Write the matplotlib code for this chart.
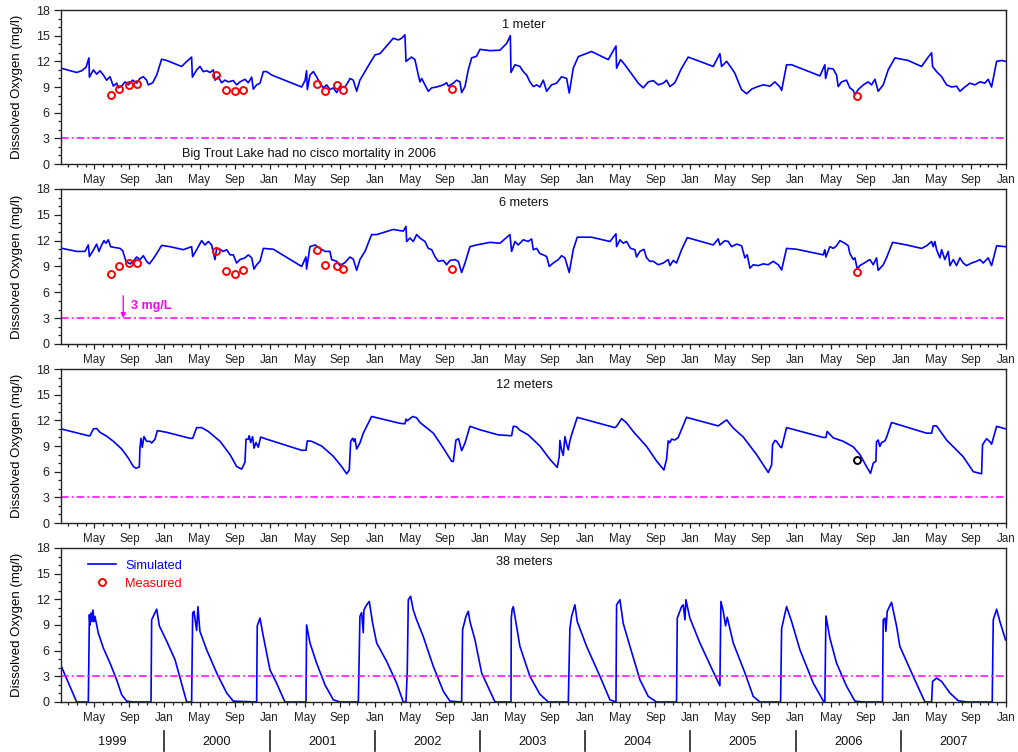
# -*- coding: utf-8 -*-
"""Oxígeno disuelto simulado vs. medido en Big Trout Lake (1999-2007),
cuatro profundidades apiladas con el umbral de 3 mg/L."""
import matplotlib
matplotlib.use("Agg")
import matplotlib.pyplot as plt
from matplotlib.lines import Line2D

plt.rcParams.update({"font.family": ["Liberation Sans", "DejaVu Sans"],
                     "font.size": 9.2, "text.color": "#111111",
                     "axes.edgecolor": "#222222", "axes.linewidth": 1.0,
                     "xtick.color": "#222222", "ytick.color": "#222222"})

# ---- series simuladas (año decimal, mg/l) ----
T_1M = [1999.016, 1999.165, 1999.213, 1999.254, 1999.282, 1999.286, 1999.324, 1999.355, 1999.387, 1999.419,
        1999.450, 1999.482, 1999.514, 1999.545, 1999.561, 1999.593, 1999.625, 1999.656, 1999.697, 1999.735,
        1999.767, 1999.799, 1999.830, 1999.846, 1999.888, 1999.926, 1999.973, 2000.021, 2000.163, 2000.204,
        2000.258, 2000.265, 2000.306, 2000.337, 2000.369, 2000.401, 2000.433, 2000.464, 2000.480, 2000.512,
        2000.543, 2000.575, 2000.607, 2000.654, 2000.686, 2000.718, 2000.765, 2000.797, 2000.829, 2000.844,
        2000.876, 2000.908, 2000.940, 2000.971, 2001.019, 2001.304, 2001.336, 2001.351, 2001.358, 2001.383,
        2001.415, 2001.446, 2001.478, 2001.510, 2001.542, 2001.573, 2001.605, 2001.637, 2001.668, 2001.716,
        2001.747, 2001.763, 2001.795, 2001.827, 2001.858, 2001.906, 2001.953, 2002.001, 2002.049, 2002.175,
        2002.223, 2002.254, 2002.286, 2002.296, 2002.318, 2002.350, 2002.381, 2002.413, 2002.429, 2002.445,
        2002.476, 2002.508, 2002.540, 2002.587, 2002.651, 2002.682, 2002.698, 2002.746, 2002.777, 2002.809,
        2002.825, 2002.857, 2002.888, 2002.920, 2002.967, 2002.999, 2003.094, 2003.189, 2003.253, 2003.288,
        2003.294, 2003.332, 2003.379, 2003.411, 2003.443, 2003.474, 2003.506, 2003.538, 2003.569, 2003.601,
        2003.633, 2003.680, 2003.728, 2003.775, 2003.823, 2003.848, 2003.886, 2003.934, 2004.060, 2004.219,
        2004.292, 2004.298, 2004.336, 2004.377, 2004.425, 2004.472, 2004.504, 2004.552, 2004.599, 2004.647,
        2004.694, 2004.742, 2004.773, 2004.805, 2004.852, 2004.916, 2004.979, 2005.217, 2005.280, 2005.296,
        2005.344, 2005.391, 2005.423, 2005.455, 2005.486, 2005.534, 2005.581, 2005.629, 2005.692, 2005.756,
        2005.803, 2005.851, 2005.867, 2005.914, 2005.962, 2006.231, 2006.278, 2006.285, 2006.310, 2006.358,
        2006.389, 2006.405, 2006.437, 2006.484, 2006.516, 2006.548, 2006.564, 2006.595, 2006.643, 2006.690,
        2006.722, 2006.754, 2006.785, 2006.833, 2006.880, 2006.944, 2007.070, 2007.197, 2007.261, 2007.293,
        2007.302, 2007.340, 2007.388, 2007.435, 2007.483, 2007.530, 2007.562, 2007.609, 2007.657, 2007.704,
        2007.752, 2007.799, 2007.831, 2007.863, 2007.911, 2007.958, 2007.996]
DO_1M = [11.2, 10.7, 10.9, 11.3, 12.4, 10.15, 11.0, 10.5, 10.9, 10.4,
         9.8, 10.2, 9.1, 9.45, 8.9, 9.1, 9.6, 9.25, 9.8, 9.45,
         10.0, 10.2, 9.8, 9.25, 9.5, 10.4, 12.25, 12.1, 11.4, 11.9,
         12.5, 10.15, 11.0, 11.4, 10.8, 10.9, 10.7, 11.0, 9.8, 10.2,
         9.5, 9.8, 9.6, 9.75, 9.25, 9.6, 9.9, 9.5, 10.15, 8.75,
         9.25, 9.45, 10.8, 10.8, 10.4, 9.0, 9.75, 10.9, 8.7, 10.4,
         10.8, 10.2, 9.45, 8.9, 9.25, 8.7, 8.9, 8.35, 9.1, 9.0,
         9.6, 10.0, 9.8, 8.5, 9.8, 10.8, 11.8, 12.75, 12.9, 14.7,
         14.5, 14.7, 15.1, 12.0, 12.2, 12.5, 12.2, 10.4, 9.6, 10.0,
         9.25, 8.5, 8.9, 9.0, 9.25, 9.5, 9.1, 9.45, 9.8, 9.6,
         8.35, 9.05, 11.0, 12.4, 12.6, 13.4, 13.25, 13.3, 14.1, 15.0,
         10.7, 11.6, 11.4, 10.8, 10.4, 9.6, 9.05, 9.25, 9.0, 9.8,
         8.5, 9.25, 9.45, 10.2, 10.0, 8.3, 11.2, 12.55, 13.15, 12.2,
         13.8, 11.2, 12.2, 11.6, 10.8, 10.0, 9.45, 8.9, 9.6, 9.75,
         9.25, 9.45, 9.8, 9.05, 9.5, 11.2, 12.5, 11.4, 12.9, 11.4,
         12.0, 11.2, 10.6, 9.6, 8.7, 8.2, 8.75, 9.0, 9.25, 9.1,
         9.6, 9.0, 8.6, 11.6, 11.6, 10.3, 11.6, 10.0, 11.2, 11.1,
         10.4, 9.05, 9.6, 9.8, 8.9, 8.6, 8.1, 8.7, 9.25, 9.6,
         9.25, 9.9, 8.5, 9.25, 11.0, 12.4, 12.1, 11.4, 12.5, 13.0,
         11.4, 10.8, 10.2, 9.25, 9.0, 9.1, 8.5, 9.0, 9.45, 9.25,
         9.6, 9.45, 9.9, 9.0, 12.0, 12.1, 12.0]

T_6M = [1999.016, 1999.165, 1999.244, 1999.276, 1999.286, 1999.324, 1999.355, 1999.377, 1999.403, 1999.425,
        1999.444, 1999.466, 1999.488, 1999.529, 1999.577, 1999.602, 1999.634, 1999.672, 1999.704, 1999.735,
        1999.767, 1999.799, 1999.830, 1999.856, 1999.888, 1999.926, 1999.973, 2000.052, 2000.179, 2000.258,
        2000.268, 2000.306, 2000.353, 2000.385, 2000.417, 2000.448, 2000.480, 2000.496, 2000.528, 2000.559,
        2000.591, 2000.623, 2000.654, 2000.686, 2000.718, 2000.765, 2000.797, 2000.829, 2000.851, 2000.876,
        2000.908, 2000.940, 2001.035, 2001.304, 2001.345, 2001.351, 2001.383, 2001.431, 2001.478, 2001.526,
        2001.573, 2001.589, 2001.637, 2001.668, 2001.716, 2001.763, 2001.795, 2001.827, 2001.858, 2001.906,
        2001.969, 2002.017, 2002.175, 2002.270, 2002.296, 2002.302, 2002.334, 2002.365, 2002.397, 2002.429,
        2002.476, 2002.508, 2002.540, 2002.571, 2002.603, 2002.651, 2002.682, 2002.714, 2002.761, 2002.793,
        2002.825, 2002.857, 2002.904, 2002.967, 2003.094, 2003.189, 2003.284, 2003.300, 2003.332, 2003.363,
        2003.411, 2003.458, 2003.490, 2003.506, 2003.538, 2003.569, 2003.601, 2003.633, 2003.658, 2003.696,
        2003.744, 2003.775, 2003.807, 2003.848, 2003.886, 2003.924, 2004.060, 2004.235, 2004.292, 2004.298,
        2004.330, 2004.361, 2004.393, 2004.431, 2004.472, 2004.488, 2004.520, 2004.558, 2004.583, 2004.615,
        2004.647, 2004.694, 2004.742, 2004.789, 2004.805, 2004.837, 2004.868, 2004.916, 2004.970, 2005.217,
        2005.264, 2005.280, 2005.328, 2005.359, 2005.391, 2005.439, 2005.486, 2005.518, 2005.540, 2005.566,
        2005.597, 2005.645, 2005.692, 2005.740, 2005.787, 2005.835, 2005.867, 2005.914, 2006.009, 2006.263,
        2006.278, 2006.288, 2006.326, 2006.358, 2006.389, 2006.421, 2006.468, 2006.500, 2006.516, 2006.548,
        2006.564, 2006.586, 2006.611, 2006.659, 2006.706, 2006.738, 2006.769, 2006.785, 2006.833, 2006.864,
        2006.922, 2007.055, 2007.197, 2007.245, 2007.293, 2007.308, 2007.324, 2007.340, 2007.372, 2007.388,
        2007.419, 2007.451, 2007.467, 2007.499, 2007.530, 2007.562, 2007.593, 2007.625, 2007.673, 2007.720,
        2007.752, 2007.783, 2007.831, 2007.863, 2007.911, 2007.996]
DO_6M = [11.13, 10.75, 10.75, 11.5, 10.15, 10.9, 11.6, 10.75, 11.5, 12.0,
         11.7, 12.1, 11.3, 11.2, 11.1, 10.85, 9.6, 9.3, 9.6, 10.1,
         9.8, 10.25, 9.6, 9.3, 9.8, 10.5, 11.45, 11.3, 10.95, 11.3,
         10.15, 10.95, 12.0, 11.5, 11.9, 11.5, 9.8, 11.1, 11.0, 10.75,
         10.95, 10.35, 10.35, 9.4, 9.8, 10.0, 10.35, 10.0, 8.7, 9.2,
         9.6, 11.1, 11.0, 9.0, 10.1, 8.7, 11.3, 11.5, 11.1, 10.75,
         10.75, 9.8, 9.6, 9.1, 9.45, 10.1, 9.85, 8.55, 9.8, 10.75,
         12.7, 12.7, 13.3, 13.1, 13.65, 11.9, 12.3, 11.9, 12.7, 12.3,
         11.9, 11.1, 10.95, 10.15, 9.6, 9.7, 9.2, 9.7, 9.8, 9.6,
         8.3, 9.4, 11.3, 11.5, 11.8, 11.7, 12.7, 10.75, 11.9, 11.5,
         12.1, 11.9, 12.2, 10.95, 11.1, 10.5, 10.35, 10.15, 9.0, 9.4,
         9.8, 10.25, 10.0, 8.3, 10.95, 12.4, 12.4, 11.9, 12.8, 11.3,
         12.1, 11.7, 11.9, 11.1, 10.95, 10.1, 10.75, 11.0, 10.0, 9.6,
         9.6, 9.2, 9.4, 9.8, 9.1, 9.7, 9.4, 10.95, 12.35, 11.5,
         12.2, 11.5, 12.0, 11.9, 11.3, 11.6, 11.4, 10.0, 10.35, 8.8,
         9.2, 9.1, 9.3, 9.2, 9.6, 9.2, 8.6, 11.1, 11.0, 10.35,
         10.95, 10.1, 11.3, 11.1, 11.4, 12.0, 11.7, 11.4, 10.5, 9.8,
         10.0, 8.7, 9.1, 9.45, 9.8, 9.2, 10.0, 8.55, 9.2, 10.0,
         11.8, 11.5, 11.1, 11.4, 11.9, 11.3, 11.9, 10.95, 10.0, 10.95,
         9.8, 10.75, 9.1, 9.8, 9.1, 10.0, 9.4, 9.1, 9.4, 9.6,
         9.8, 9.4, 10.0, 9.1, 11.4, 11.3]

T_12M = [1999.016, 1999.276, 1999.292, 1999.324, 1999.355, 1999.387, 1999.450, 1999.514, 1999.593, 1999.656,
         1999.704, 1999.729, 1999.761, 1999.767, 1999.777, 1999.789, 1999.805, 1999.830, 1999.862, 1999.878,
         1999.910, 1999.932, 2000.021, 2000.242, 2000.268, 2000.306, 2000.353, 2000.417, 2000.528, 2000.623,
         2000.686, 2000.734, 2000.765, 2000.775, 2000.797, 2000.806, 2000.819, 2000.838, 2000.851, 2000.870,
         2000.892, 2000.914, 2000.971, 2001.304, 2001.345, 2001.358, 2001.399, 2001.494, 2001.605, 2001.684,
         2001.732, 2001.757, 2001.770, 2001.789, 2001.801, 2001.811, 2001.827, 2001.858, 2001.890, 2001.969,
         2002.239, 2002.286, 2002.296, 2002.308, 2002.359, 2002.397, 2002.429, 2002.556, 2002.651, 2002.730,
         2002.746, 2002.771, 2002.796, 2002.825, 2002.857, 2002.904, 2002.999, 2003.173, 2003.300, 2003.316,
         2003.347, 2003.379, 2003.458, 2003.569, 2003.664, 2003.734, 2003.753, 2003.759, 2003.775, 2003.791,
         2003.807, 2003.823, 2003.839, 2003.854, 2003.870, 2003.924, 2004.282, 2004.298, 2004.346, 2004.393,
         2004.456, 2004.583, 2004.678, 2004.748, 2004.773, 2004.789, 2004.805, 2004.821, 2004.852, 2004.884,
         2004.963, 2005.264, 2005.344, 2005.407, 2005.502, 2005.629, 2005.740, 2005.772, 2005.781, 2005.803,
         2005.819, 2005.851, 2005.867, 2005.914, 2006.263, 2006.288, 2006.300, 2006.358, 2006.453, 2006.548,
         2006.611, 2006.674, 2006.712, 2006.738, 2006.763, 2006.769, 2006.785, 2006.801, 2006.817, 2006.849,
         2006.864, 2006.912, 2007.245, 2007.293, 2007.308, 2007.340, 2007.435, 2007.593, 2007.689, 2007.768,
         2007.777, 2007.815, 2007.847, 2007.863, 2007.911, 2007.996]
DO_12M = [11.0, 10.2, 10.2, 11.0, 11.05, 10.6, 10.15, 9.55, 8.65, 7.6,
          6.6, 6.4, 6.55, 8.85, 9.9, 8.85, 10.1, 9.55, 9.55, 9.35,
          9.8, 10.8, 10.6, 9.9, 9.9, 11.15, 11.15, 10.7, 9.55, 8.0,
          6.6, 6.3, 7.1, 9.8, 9.8, 10.2, 9.4, 10.1, 8.75, 9.4,
          8.85, 10.05, 9.8, 8.5, 8.5, 9.6, 9.55, 9.0, 7.8, 6.6,
          5.75, 6.2, 9.55, 9.9, 9.55, 9.85, 8.65, 9.35, 10.5, 12.45,
          11.65, 11.6, 12.15, 11.95, 12.45, 12.3, 11.75, 10.5, 8.75, 7.2,
          7.2, 9.7, 9.85, 8.45, 9.35, 11.3, 10.9, 10.3, 10.2, 11.3,
          11.25, 10.85, 10.3, 9.0, 7.45, 6.5, 7.8, 9.65, 8.55, 7.9,
          10.1, 9.2, 8.55, 9.6, 10.3, 12.35, 11.15, 11.3, 12.2, 11.7,
          10.7, 8.95, 7.25, 6.2, 7.45, 9.6, 9.4, 9.8, 9.7, 10.0,
          12.35, 11.35, 12.05, 11.1, 10.05, 8.0, 5.9, 6.8, 9.15, 9.65,
          9.55, 8.95, 8.8, 11.15, 10.0, 10.0, 10.7, 9.95, 9.55, 8.9,
          8.0, 6.6, 5.8, 7.0, 7.2, 9.5, 9.7, 8.95, 9.4, 9.6,
          10.0, 11.75, 10.5, 10.5, 11.35, 11.35, 9.7, 7.75, 6.0, 5.75,
          9.15, 9.85, 9.5, 9.2, 11.3, 11.0]

T_38M = [1999.016, 1999.165, 1999.276, 1999.286, 1999.292, 1999.301, 1999.311, 1999.320, 1999.330, 1999.339,
         1999.371, 1999.419, 1999.482, 1999.545, 1999.593, 1999.640, 1999.704, 1999.872, 1999.878, 1999.926,
         1999.951, 2000.021, 2000.100, 2000.211, 2000.258, 2000.268, 2000.280, 2000.306, 2000.318, 2000.337,
         2000.401, 2000.496, 2000.591, 2000.654, 2000.876, 2000.882, 2000.908, 2000.940, 2001.003, 2001.066,
         2001.145, 2001.345, 2001.351, 2001.383, 2001.446, 2001.526, 2001.605, 2001.668, 2001.843, 2001.858,
         2001.874, 2001.890, 2001.896, 2001.922, 2001.947, 2001.979, 2002.017, 2002.112, 2002.207, 2002.270,
         2002.296, 2002.308, 2002.318, 2002.340, 2002.365, 2002.397, 2002.460, 2002.556, 2002.651, 2002.714,
         2002.825, 2002.834, 2002.866, 2002.888, 2002.904, 2002.952, 2003.015, 2003.142, 2003.294, 2003.297,
         2003.305, 2003.316, 2003.379, 2003.474, 2003.569, 2003.649, 2003.839, 2003.854, 2003.870, 2003.902,
         2003.924, 2004.013, 2004.140, 2004.235, 2004.292, 2004.298, 2004.330, 2004.361, 2004.425, 2004.520,
         2004.599, 2004.678, 2004.868, 2004.875, 2004.916, 2004.932, 2004.948, 2004.957, 2004.995, 2005.090,
         2005.201, 2005.280, 2005.290, 2005.312, 2005.334, 2005.350, 2005.407, 2005.518, 2005.597, 2005.661,
         2005.857, 2005.867, 2005.914, 2005.962, 2006.041, 2006.168, 2006.269, 2006.278, 2006.288, 2006.326,
         2006.389, 2006.484, 2006.564, 2006.643, 2006.826, 2006.833, 2006.849, 2006.858, 2006.871, 2006.912,
         2006.960, 2006.991, 2007.118, 2007.229, 2007.293, 2007.302, 2007.340, 2007.388, 2007.467, 2007.546,
         2007.625, 2007.869, 2007.879, 2007.911, 2007.942, 2007.996]
DO_38M = [4.25, 0.0, 0.0, 10.2, 9.0, 10.4, 9.4, 10.75, 9.4, 10.0,
          8.05, 6.3, 4.55, 2.6, 0.85, 0.1, 0.0, 0.0, 9.6, 10.85,
          8.9, 7.1, 4.95, 0.0, 0.0, 10.4, 10.6, 8.35, 11.15, 8.25,
          6.1, 3.4, 1.05, 0.1, 0.0, 8.9, 9.8, 7.65, 3.75, 2.2,
          0.0, 0.0, 9.0, 6.9, 4.55, 2.0, 0.25, 0.0, 0.0, 10.0,
          10.45, 8.1, 10.75, 11.35, 11.75, 9.2, 6.9, 4.75, 2.2, 0.0,
          0.0, 3.6, 11.95, 12.35, 10.75, 9.6, 7.65, 4.15, 1.25, 0.1,
          0.0, 8.45, 10.0, 10.6, 9.4, 7.25, 3.4, 0.0, 0.0, 9.8,
          10.8, 11.15, 6.5, 3.0, 0.9, 0.0, 0.0, 8.6, 10.0, 11.35,
          9.4, 6.5, 3.0, 0.25, 0.0, 11.35, 11.95, 9.2, 6.5, 2.6,
          0.65, 0.0, 0.0, 9.8, 11.15, 11.35, 9.6, 11.95, 9.8, 6.9,
          3.95, 1.9, 11.75, 10.6, 8.9, 9.9, 6.9, 3.4, 0.65, 0.0,
          0.0, 8.6, 11.15, 9.4, 6.1, 2.2, 0.0, 0.0, 10.05, 7.45,
          4.55, 1.85, 0.1, 0.0, 0.0, 9.6, 9.8, 8.25, 10.6, 11.65,
          8.85, 6.5, 3.0, 0.0, 0.0, 2.4, 2.8, 2.4, 1.05, 0.15,
          0.0, 0.0, 9.6, 10.85, 9.4, 7.25]

# ---- perfiles medidos ----
OBS_T = [1999.491, 1999.565, 1999.660, 1999.736, 2000.490, 2000.585, 2000.670,
         2000.749, 2001.452, 2001.526, 2001.643, 2001.700, 2002.730, 2006.580]
OBS_1M = [8.1, 8.75, 9.25, 9.4, 10.4, 8.7, 8.55, 8.7, 9.4, 8.5, 9.25, 8.6, 8.75, 7.9]
OBS_6M = [8.1, 9.05, 9.35, 9.35, 10.75, 8.45, 8.15, 8.6, 10.95, 9.2, 9.05, 8.75, 8.75, 8.35]
OBS_12M_T = [2006.580]
OBS_12M = [7.4]

UMBRAL = 3.0
YEARS = list(range(1999, 2008))
MES_LAB = {0: "Jan", 4: "May", 8: "Sep"}

AZUL = "#0000ff"
MAGENTA = "#ff00ff"
ROJO = "#ff0000"
X0, X1 = 1999.016, 2008.0


def panel(ax, t, do, titulo, ytit, obs_t=None, obs=None, obs_color=ROJO):
    ax.plot(t, do, color=AZUL, lw=1.2)
    if obs_t:
        ax.plot(obs_t, obs, "o", mfc="none", mec=obs_color, ms=5, mew=1.4)
    ax.axhline(UMBRAL, color=MAGENTA, lw=1.1, dashes=(5, 2, 1.2, 2))

    major = [y + m / 12 for y in range(1999, 2009) for m in (0, 4, 8)]
    labs = [MES_LAB[m] for y in range(1999, 2009) for m in (0, 4, 8)]
    minor = [y + m / 12 for y in range(1999, 2009) for m in range(12)]
    ax.set_xticks(major)
    ax.set_xticklabels(labs)
    ax.set_xticks(minor, minor=True)
    ax.set_xlim(X0, X1)
    ax.set_yticks(range(0, 19, 3))
    ax.set_yticks(range(0, 19), minor=True)
    ax.set_ylim(0, 18)
    ax.tick_params(axis="x", which="major", direction="out", length=3.5,
                   width=0.9, pad=4, labelsize=8.4)
    ax.tick_params(axis="x", which="minor", direction="out", length=2.5, width=0.9)
    ax.tick_params(axis="y", which="major", direction="out", length=5,
                   width=0.9, pad=3, labelsize=9)
    ax.tick_params(axis="y", which="minor", direction="out", length=2.5, width=0.9)
    ax.set_ylabel("Dissolved Oxygen (mg/l)", fontsize=9.5)
    ax.yaxis.set_label_coords(-0.040, 0.5)
    ax.text(0.49, ytit, titulo, transform=ax.transAxes, ha="center", va="center")


def main():
    fig = plt.figure(figsize=(10.18, 7.52), dpi=100)
    left, width = 0.0599, 0.9283
    ax1 = fig.add_axes([left, 0.7819, width, 0.2048])
    ax2 = fig.add_axes([left, 0.5426, width, 0.2061])
    ax3 = fig.add_axes([left, 0.3045, width, 0.2048])
    ax4 = fig.add_axes([left, 0.0665, width, 0.2048])

    panel(ax1, T_1M, DO_1M, "1 meter", 0.90, OBS_T, OBS_1M)
    panel(ax2, T_6M, DO_6M, "6 meters", 0.91, OBS_T, OBS_6M)
    panel(ax3, T_12M, DO_12M, "12 meters", 0.896, OBS_12M_T, OBS_12M, obs_color="black")
    panel(ax4, T_38M, DO_38M, "38 meters", 0.912)

    ax1.text(2001.37, 1.2, "Big Trout Lake had no cisco mortality in 2006",
             ha="center", va="center")

    # flecha del umbral
    ax2.annotate("", xy=(1999.608, UMBRAL), xytext=(1999.608, 5.6),
                 arrowprops=dict(arrowstyle="-|>", color=MAGENTA, lw=1,
                                 mutation_scale=7, shrinkA=0, shrinkB=0))
    ax2.text(1999.68, 4.4, "3 mg/L", color=MAGENTA, fontweight="bold",
             fontsize=9, ha="left", va="center")

    handles = [Line2D([], [], color=AZUL, lw=1.2),
               Line2D([], [], ls="none", marker="o", mfc="none", mec=ROJO,
                      ms=5, mew=1.4)]
    ax4.legend(handles, ["Simulated", "Measured"], loc="upper left",
               bbox_to_anchor=(0.026, 0.94), frameon=False, handlelength=2.2,
               handletextpad=0.7, labelspacing=0.45, borderaxespad=0,
               borderpad=0.2, labelcolor=[AZUL, ROJO])

    # fila de años bajo el último panel
    tr = ax4.get_xaxis_transform()
    for y in YEARS:
        ax4.text(y + 0.5, -0.262, str(y), transform=tr, ha="center", va="center")
    for y in YEARS[1:]:
        ax4.plot([y, y], [-0.19, -0.32], transform=tr, color="#222222",
                 lw=1.2, clip_on=False)

    fig.savefig("out.png", dpi=100, facecolor="white")
    plt.close(fig)
    print("OK out.png")


if __name__ == "__main__":
    main()
